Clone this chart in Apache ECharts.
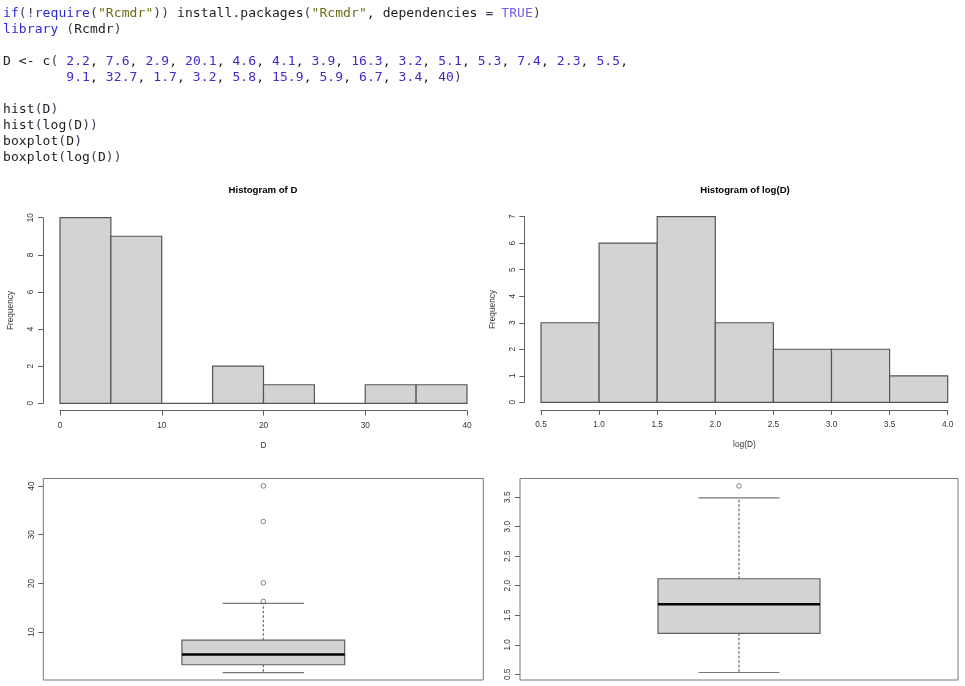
<!DOCTYPE html>
<html><head><meta charset="utf-8">
<script src="https://cdn.jsdelivr.net/npm/echarts@6/dist/echarts.min.js"></script>
<style>
html,body{margin:0;padding:0;background:#fff;width:965px;height:686px;overflow:hidden}
#chart{position:absolute;left:0;top:0;width:965px;height:686px}
#code{position:absolute;left:3px;top:5px;margin:0;font-family:"DejaVu Sans Mono",monospace;font-size:13px;letter-spacing:0.08px;line-height:16px;color:#1c1c1c;white-space:pre;z-index:2}
.k{color:#2b2bd6}.s{color:#6b6b12}.n{color:#4a24cf}.c{color:#7460ee}.p{color:#3b3b55}
</style></head>
<body>
<div id="chart"></div>
<pre id="code"></pre>
<script>
// ---- data ----
const D_VALUES = [2.2, 7.6, 2.9, 20.1, 4.6, 4.1, 3.9, 16.3, 3.2, 5.1, 5.3, 7.4, 2.3, 5.5,
                  9.1, 32.7, 1.7, 3.2, 5.8, 15.9, 5.9, 6.7, 3.4, 40];
const HIST_D_BREAKS = [0, 5, 10, 15, 20, 25, 30, 35, 40];
const HIST_D_COUNTS = [10, 9, 0, 2, 1, 0, 1, 1];
const HIST_D_XTICKS = [0, 10, 20, 30, 40];
const HIST_D_YTICKS = [0, 2, 4, 6, 8, 10];
const HIST_LOG_BREAKS = [0.5, 1.0, 1.5, 2.0, 2.5, 3.0, 3.5, 4.0];
const HIST_LOG_COUNTS = [3, 6, 7, 3, 2, 2, 1];
const HIST_LOG_XTICKS = [0.5, 1.0, 1.5, 2.0, 2.5, 3.0, 3.5, 4.0];
const HIST_LOG_YTICKS = [0, 1, 2, 3, 4, 5, 6, 7];
const BOX_D_STATS = [1.7, 3.3, 5.4, 8.35, 15.9];       // min, q1, median, q3, max
const BOX_D_OUTLIERS = [16.3, 20.1, 32.7, 40];
const BOX_D_YTICKS = [10, 20, 30, 40];
const BOX_LOG_STATS = [0.531, 1.194, 1.686, 2.118, 3.487];
const BOX_LOG_OUTLIERS = [3.689];
const BOX_LOG_YTICKS = [0.5, 1.0, 1.5, 2.0, 2.5, 3.0, 3.5];
const TITLES = ['Histogram of D', 'Histogram of log(D)'];
const XNAMES = ['D', 'log(D)'];
const YNAME = 'Frequency';

// ---- code text ----
const sp = (c, t) => '<span class="' + c + '">' + t + '</span>';
const num = v => sp('n', String(v));
const first = D_VALUES.slice(0, 14), rest = D_VALUES.slice(14);
const codeLines = [
  sp('k','if') + sp('p','(!') + sp('k','require') + sp('p','(') + sp('s','"Rcmdr"') + sp('p','))') +
    ' install.packages' + sp('p','(') + sp('s','"Rcmdr"') + ', dependencies ' + sp('p','=') + ' ' + sp('c','TRUE') + sp('p',')'),
  sp('k','library') + ' ' + sp('p','(') + 'Rcmdr' + sp('p',')'),
  '',
  'D &lt;- c' + sp('p','(') + ' ' + first.map(num).join(', ') + ',',
  '        ' + rest.map(num).join(', ') + sp('p',')'),
  '',
  'hist' + sp('p','(') + 'D' + sp('p',')'),
  'hist' + sp('p','(') + 'log' + sp('p','(') + 'D' + sp('p','))'),
  'boxplot' + sp('p','(') + 'D' + sp('p',')'),
  'boxplot' + sp('p','(') + 'log' + sp('p','(') + 'D' + sp('p','))')
];
document.getElementById('code').innerHTML = codeLines.join('\n');

// ---- styles ----
const FONT = '"Liberation Sans", Arial, sans-serif';
const AXC = '#606060';
const LBL = '#333';
const BAR_FILL = '#d3d3d3';
const BAR_STROKE = '#555';
const BOX_HALF = 0.185, CAP_HALF = 0.0925;
const fmt1 = v => Number(v).toFixed(1);

function histSeries(breaks, counts, idx) {
  return {
    type: 'custom', xAxisIndex: idx, yAxisIndex: idx, clip: false,
    data: counts.map((c, i) => [breaks[i], breaks[i + 1], c]),
    encode: { x: [0, 1], y: 2 },
    renderItem: function (params, api) {
      const p0 = api.coord([api.value(0), api.value(2)]);
      const p1 = api.coord([api.value(1), 0]);
      return { type: 'rect', shape: { x: p0[0], y: p0[1], width: p1[0] - p0[0], height: p1[1] - p0[1] },
        style: { fill: BAR_FILL, stroke: BAR_STROKE, lineWidth: 1.2 } };
    }
  };
}
function boxSeries(stats, idx) {
  return {
    type: 'custom', xAxisIndex: idx, yAxisIndex: idx, clip: false,
    data: [[0.5].concat(stats)],
    encode: { x: 0, y: [1, 2, 3, 4, 5] },
    renderItem: function (params, api) {
      const cx = api.value(0);
      const mn = api.value(1), q1 = api.value(2), md = api.value(3), q3 = api.value(4), mx = api.value(5);
      const X = v => api.coord([v, md])[0];
      const Y = v => api.coord([cx, v])[1];
      const xc = X(cx), L = X(cx - BOX_HALF), R = X(cx + BOX_HALF), cl = X(cx - CAP_HALF), cr = X(cx + CAP_HALF);
      const dash = { stroke: '#666', lineWidth: 1.2, lineDash: [2.5, 2] };
      const solid = { stroke: '#777', lineWidth: 1.2 };
      return { type: 'group', children: [
        { type: 'line', shape: { x1: xc, y1: Y(q3), x2: xc, y2: Y(mx) }, style: dash },
        { type: 'line', shape: { x1: xc, y1: Y(q1), x2: xc, y2: Y(mn) }, style: dash },
        { type: 'line', shape: { x1: cl, y1: Y(mx), x2: cr, y2: Y(mx) }, style: solid },
        { type: 'line', shape: { x1: cl, y1: Y(mn), x2: cr, y2: Y(mn) }, style: solid },
        { type: 'rect', shape: { x: L, y: Y(q3), width: R - L, height: Y(q1) - Y(q3) },
          style: { fill: BAR_FILL, stroke: '#5f5f5f', lineWidth: 1.2 } },
        { type: 'line', shape: { x1: L, y1: Y(md), x2: R, y2: Y(md) }, style: { stroke: '#000', lineWidth: 2.6 } }
      ] };
    }
  };
}
function outlierSeries(vals, idx) {
  return { type: 'scatter', xAxisIndex: idx, yAxisIndex: idx, symbol: 'circle', symbolSize: 4.6,
    data: vals.map(v => [0.5, v]), itemStyle: { color: 'rgba(255,255,255,0)', borderColor: '#555', borderWidth: 0.9 }, z: 5 };
}

const tickStyle = { show: true, inside: false, length: 5, lineStyle: { color: AXC, width: 1 } };
const xLabel = (fmt) => ({ show: true, margin: 11, fontSize: 8.3, color: LBL, fontFamily: FONT, formatter: fmt });
const yLabel = (fmt) => ({ show: true, rotate: 90, margin: 8, fontSize: 8.3, color: LBL, fontFamily: FONT, formatter: fmt });

const option = {
  animation: false,
  backgroundColor: '#fff',
  graphic: [
    { type: 'text', x: 263, y: 190.5, style: { text: TITLES[0], align: 'center', verticalAlign: 'middle', font: 'bold 9.6px ' + FONT, fill: '#000' } },
    { type: 'text', x: 745, y: 190.5, style: { text: TITLES[1], align: 'center', verticalAlign: 'middle', font: 'bold 9.6px ' + FONT, fill: '#000' } }
  ],
  grid: [
    { left: 60, top: 217.7, width: 407, height: 185.6 },
    { left: 541, top: 216.7, width: 406.7, height: 185.6 },
    { left: 43.3, top: 478.5, width: 440, height: 201.5, show: true, borderColor: '#777', borderWidth: 1 },
    { left: 520, top: 478.5, width: 438, height: 201.5, show: true, borderColor: '#777', borderWidth: 1 }
  ],
  xAxis: [
    { gridIndex: 0, type: 'value', min: 0, max: 40, offset: 7.3,
      axisLine: { show: true, onZero: false, lineStyle: { color: AXC, width: 1 } },
      axisTick: Object.assign({ customValues: HIST_D_XTICKS }, tickStyle),
      axisLabel: Object.assign({ customValues: HIST_D_XTICKS }, xLabel(v => String(v))),
      splitLine: { show: false },
      name: XNAMES[0], nameLocation: 'middle', nameGap: 31, nameTextStyle: { fontSize: 8.3, color: LBL, fontFamily: FONT } },
    { gridIndex: 1, type: 'value', min: 0.5, max: 4, offset: 7.7,
      axisLine: { show: true, onZero: false, lineStyle: { color: AXC, width: 1 } },
      axisTick: Object.assign({ customValues: HIST_LOG_XTICKS }, tickStyle),
      axisLabel: Object.assign({ customValues: HIST_LOG_XTICKS }, xLabel(fmt1)),
      splitLine: { show: false },
      name: XNAMES[1], nameLocation: 'middle', nameGap: 31, nameTextStyle: { fontSize: 8.3, color: LBL, fontFamily: FONT } },
    { gridIndex: 2, type: 'value', min: 0, max: 1, show: false },
    { gridIndex: 3, type: 'value', min: 0, max: 1, show: false }
  ],
  yAxis: [
    { gridIndex: 0, type: 'value', min: 0, max: 10, offset: 17,
      axisLine: { show: true, onZero: false, lineStyle: { color: AXC, width: 1 } },
      axisTick: Object.assign({ customValues: HIST_D_YTICKS }, tickStyle),
      axisLabel: Object.assign({ customValues: HIST_D_YTICKS }, yLabel(v => String(v))),
      splitLine: { show: false },
      name: YNAME, nameLocation: 'middle', nameGap: 28, nameTextStyle: { fontSize: 8.3, color: LBL, fontFamily: FONT } },
    { gridIndex: 1, type: 'value', min: 0, max: 7, offset: 16.7,
      axisLine: { show: true, onZero: false, lineStyle: { color: AXC, width: 1 } },
      axisTick: Object.assign({ customValues: HIST_LOG_YTICKS }, tickStyle),
      axisLabel: Object.assign({ customValues: HIST_LOG_YTICKS }, yLabel(v => String(v))),
      splitLine: { show: false },
      name: YNAME, nameLocation: 'middle', nameGap: 28, nameTextStyle: { fontSize: 8.3, color: LBL, fontFamily: FONT } },
    { gridIndex: 2, type: 'value', min: 0.168, max: 41.53,
      axisLine: { show: false },
      axisTick: Object.assign({ customValues: BOX_D_YTICKS }, tickStyle),
      axisLabel: Object.assign({ customValues: BOX_D_YTICKS }, yLabel(v => String(v))),
      splitLine: { show: false } },
    { gridIndex: 3, type: 'value', min: 0.404, max: 3.815,
      axisLine: { show: false },
      axisTick: Object.assign({ customValues: BOX_LOG_YTICKS }, tickStyle),
      axisLabel: Object.assign({ customValues: BOX_LOG_YTICKS }, yLabel(fmt1)),
      splitLine: { show: false } }
  ],
  series: [
    histSeries(HIST_D_BREAKS, HIST_D_COUNTS, 0),
    histSeries(HIST_LOG_BREAKS, HIST_LOG_COUNTS, 1),
    boxSeries(BOX_D_STATS, 2),
    outlierSeries(BOX_D_OUTLIERS, 2),
    boxSeries(BOX_LOG_STATS, 3),
    outlierSeries(BOX_LOG_OUTLIERS, 3)
  ]
};
const chart = echarts.init(document.getElementById('chart'), null, { renderer: 'canvas' });
chart.setOption(option);
</script>
</body></html>
